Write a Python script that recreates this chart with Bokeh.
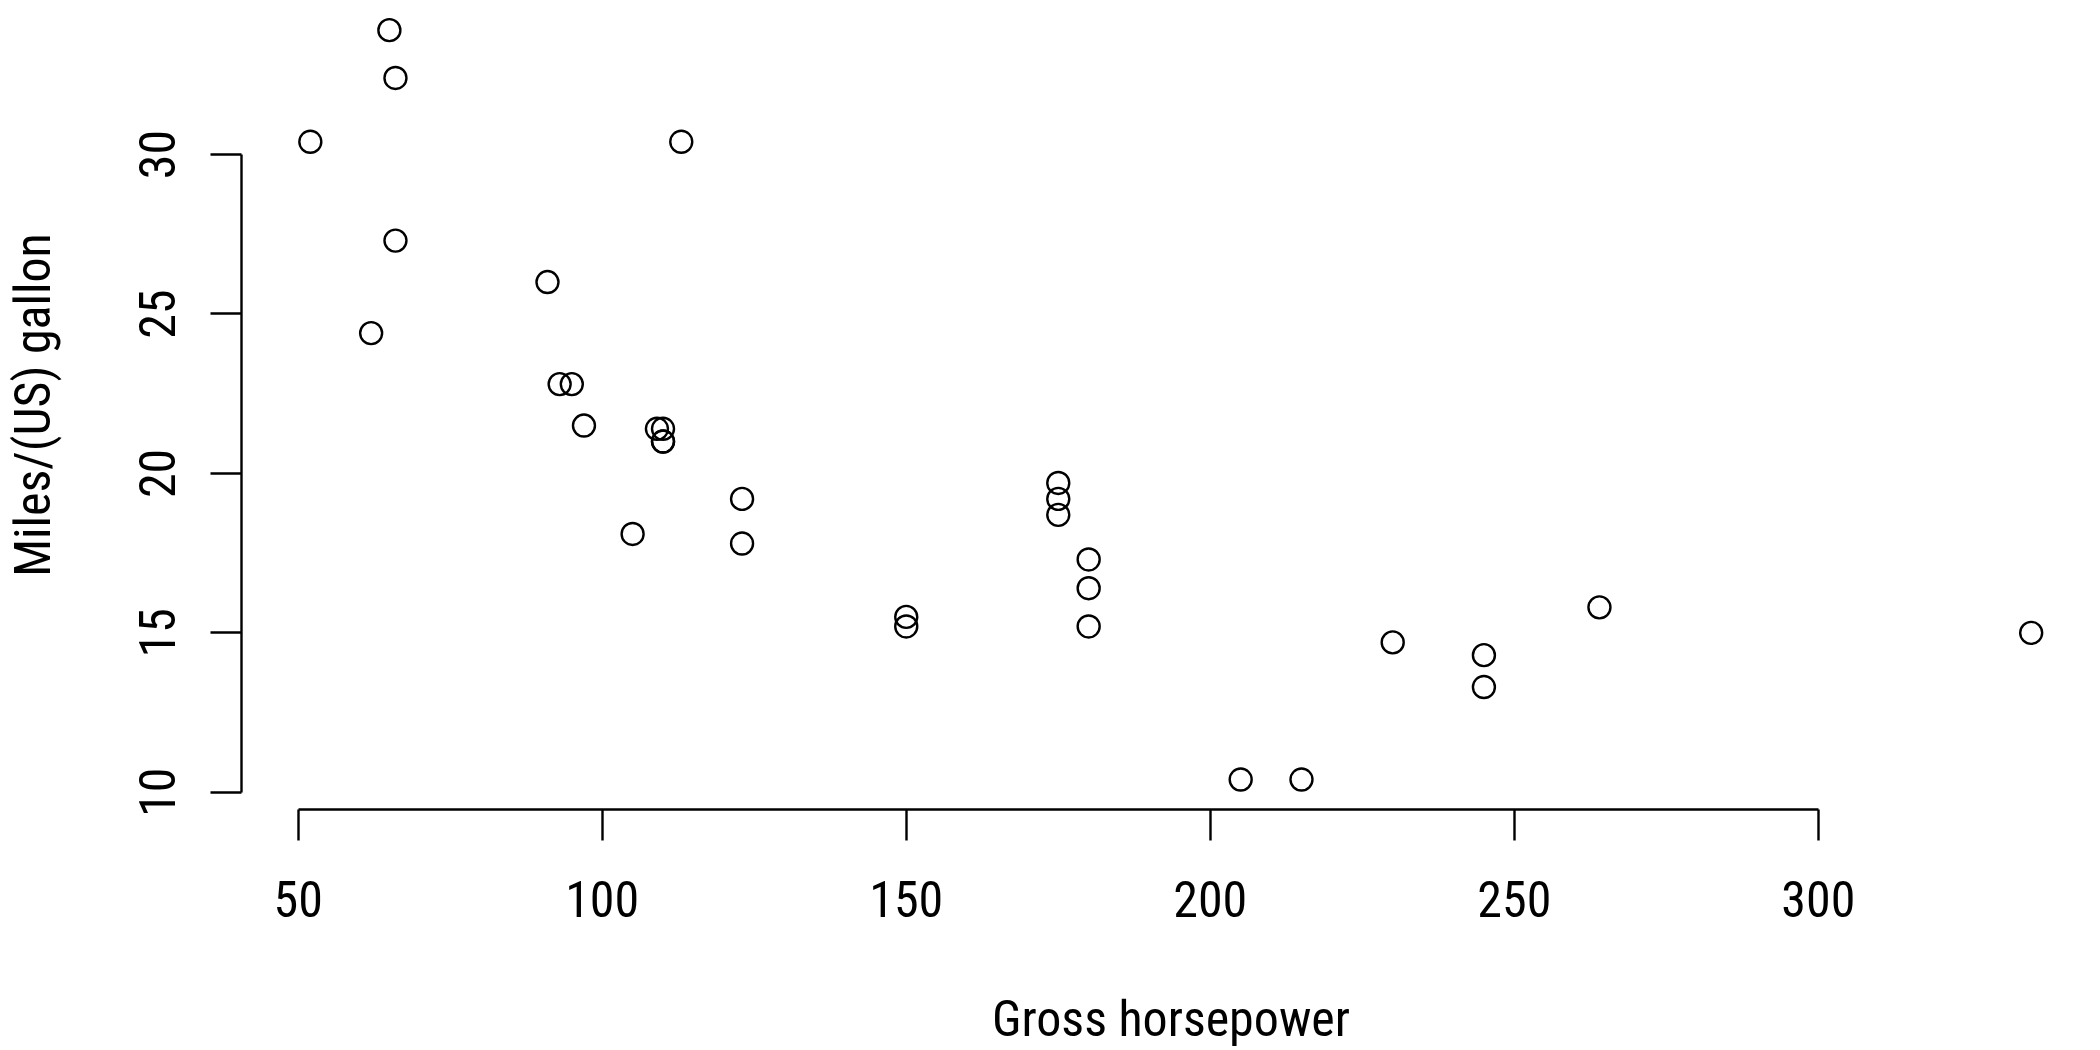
from bokeh.plotting import figure
from bokeh.models import Range1d, FixedTicker
from bokeh.embed import file_html
from bokeh.resources import INLINE

hp = [110, 110, 93, 110, 175, 105, 245, 62, 95, 123, 123, 180, 180, 180, 205, 215,
      230, 66, 52, 65, 97, 150, 150, 245, 175, 66, 91, 113, 264, 175, 335, 109]
mpg = [21.0, 21.0, 22.8, 21.4, 18.7, 18.1, 14.3, 24.4, 22.8, 19.2, 17.8, 16.4, 17.3,
       15.2, 10.4, 10.4, 14.7, 32.4, 30.4, 33.9, 21.5, 15.5, 15.2, 13.3, 19.2, 27.3,
       26.0, 30.4, 15.8, 19.7, 15.0, 21.4]
x_ticks = [50, 100, 150, 200, 250, 300]
y_ticks = [10, 15, 20, 25, 30]
x_label = "Gross horsepower"
y_label = "Miles/(US) gallon"

FONT = "'Roboto Condensed', 'Liberation Sans Narrow', 'Arial Narrow', Roboto"

p = figure(width=2100, height=1050, output_backend="svg", toolbar_location=None,
           x_range=Range1d(40.68, 346.4), y_range=Range1d(9.46, 34.83),
           min_border_left=240, min_border_right=0, min_border_top=0,
           min_border_bottom=240)
p.outline_line_color = None
p.grid.visible = False
p.background_fill_color = "white"
p.border_fill_color = "white"

p.scatter(hp, mpg, marker="circle", size=22, fill_color=None, line_color="black",
          line_width=2.4)

for ax, ticks in ((p.xaxis[0], x_ticks), (p.yaxis[0], y_ticks)):
    ax.ticker = FixedTicker(ticks=ticks)
    ax.minor_tick_line_color = None
    ax.major_tick_in = 0
    ax.major_tick_out = 31
    ax.major_tick_line_width = 2.4
    ax.axis_line_width = 2.4
    ax.axis_line_color = "black"
    ax.major_tick_line_color = "black"
    ax.major_label_text_font = FONT
    ax.major_label_text_font_size = "50px"
    ax.major_label_text_color = "black"
    ax.axis_label_text_font = FONT
    ax.axis_label_text_font_size = "50px"
    ax.axis_label_text_font_style = "normal"
    ax.axis_label_text_color = "black"

p.xaxis.bounds = (50, 300)
p.yaxis.bounds = (10, 30)
p.xaxis.axis_label = x_label
p.yaxis.axis_label = y_label
p.xaxis.major_label_standoff = 40
p.xaxis.axis_label_standoff = 70
p.yaxis.major_label_orientation = "vertical"
p.yaxis.major_label_standoff = 35
p.yaxis.axis_label_standoff = 75

open("out.html", "w").write(file_html(p, INLINE))
